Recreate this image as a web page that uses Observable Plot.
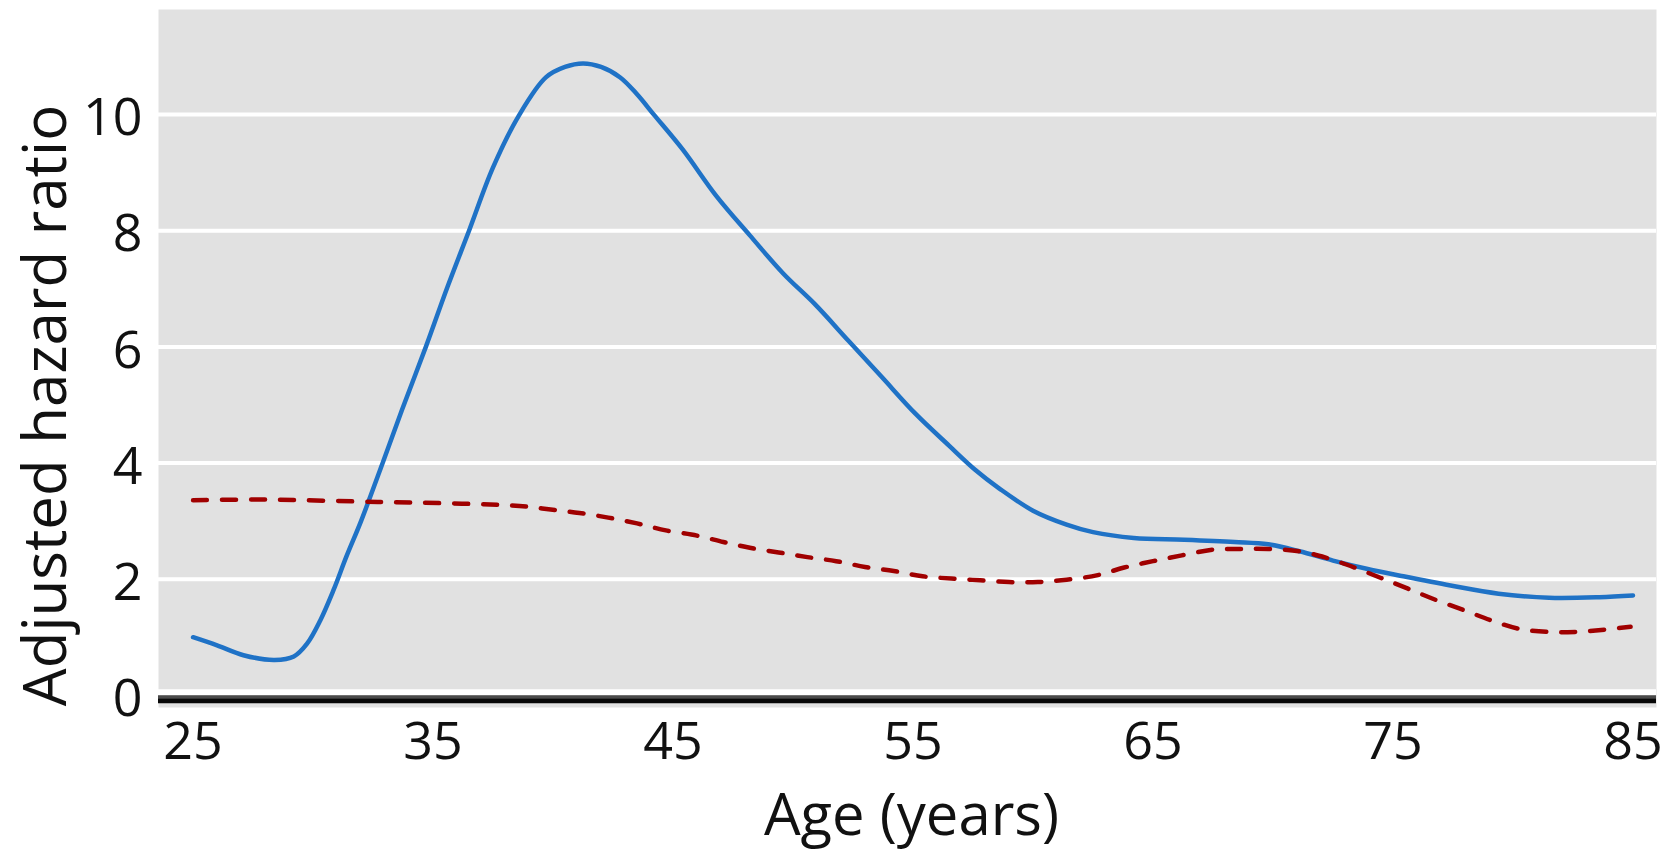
<!DOCTYPE html>
<html>
<head>
<meta charset="utf-8">
<script src="https://cdn.jsdelivr.net/npm/d3@7"></script>
<script src="https://cdn.jsdelivr.net/npm/@observablehq/plot@0.6"></script>
<style>
  html, body { margin: 0; padding: 0; background: #ffffff; }
  #chart svg { display: block; overflow: visible; }
</style>
</head>
<body>
<div id="chart"></div>
<script>
// Blue solid curve
const blueAge = [25.0, 26.0, 27.1, 28.4, 29.2, 29.75, 30.3, 30.85, 31.4, 32.0, 32.9, 33.7, 34.7, 35.6, 36.5, 37.5, 38.6, 39.7, 40.5, 41.25, 42.0, 42.8, 43.5, 44.2, 45.4, 46.8, 48.2, 49.6, 50.9, 52.3, 53.7, 55.1, 56.5, 57.6, 58.6, 60.0, 61.4, 62.5, 64.2, 66.3, 68.4, 69.8, 71.1, 72.5, 73.9, 75.3, 77.4, 79.4, 81.5, 83.6, 85.0];
const blueHR  = [1.00, 0.86, 0.69, 0.61, 0.67, 0.89, 1.29, 1.81, 2.40, 3.00, 4.00, 4.91, 6.00, 7.03, 8.00, 9.09, 10.0, 10.64, 10.82, 10.88, 10.82, 10.64, 10.35, 10.0, 9.40, 8.60, 7.92, 7.26, 6.74, 6.11, 5.48, 4.85, 4.30, 3.88, 3.56, 3.18, 2.94, 2.81, 2.71, 2.68, 2.64, 2.60, 2.48, 2.32, 2.18, 2.06, 1.89, 1.75, 1.68, 1.69, 1.72];

// Red dashed curve
const redAge = [25.0, 28.0, 32.7, 36.2, 38.6, 39.9, 41.1, 42.3, 43.5, 44.7, 46.0, 47.1, 48.2, 49.4, 50.6, 51.8, 53.0, 54.2, 55.4, 56.6, 57.8, 59.0, 60.2, 61.4, 62.7, 63.8, 65.0, 66.2, 67.5, 68.6, 69.8, 71.1, 72.2, 73.4, 74.5, 75.6, 76.8, 78.0, 79.1, 80.2, 81.5, 82.6, 83.8, 84.9];
const redHR  = [3.36, 3.37, 3.33, 3.30, 3.26, 3.20, 3.14, 3.06, 2.96, 2.84, 2.75, 2.64, 2.54, 2.46, 2.38, 2.31, 2.21, 2.14, 2.05, 2.01, 1.98, 1.95, 1.95, 1.99, 2.07, 2.20, 2.31, 2.41, 2.51, 2.52, 2.52, 2.48, 2.37, 2.20, 2.02, 1.84, 1.64, 1.46, 1.29, 1.15, 1.09, 1.09, 1.13, 1.18];

const xTicks = [25, 35, 45, 55, 65, 75, 85];
const yTicks = [0, 2, 4, 6, 8, 10];
const gridLines = [2, 4, 6, 8, 10];
const xLabel = "Age (years)";
const yLabel = "Adjusted hazard ratio";

const blue = blueAge.map((a, i) => ({age: a, hr: blueHR[i]}));
const red = redAge.map((a, i) => ({age: a, hr: redHR[i]}));

const chart = Plot.plot({
  width: 1677,
  height: 850,
  marginTop: 9,
  marginBottom: 143,
  marginLeft: 158,
  marginRight: 21,
  x: {domain: [23.56, 85.98]},
  y: {domain: [-0.21, 11.81]},
  style: {fontFamily: "'Open Sans', sans-serif", fontSize: "52px", color: "#111111", background: "#ffffff"},
  marks: [
    Plot.frame({fill: "#e1e1e1", stroke: null}),
    Plot.ruleY(gridLines, {stroke: "#ffffff", strokeWidth: 4}),
    Plot.ruleY([0], {stroke: "#ffffff", strokeWidth: 6, dy: -3}),
    Plot.ruleY([0], {stroke: "#4a4a4a", strokeWidth: 3, dy: 1.5}),
    Plot.ruleY([0], {stroke: "#080808", strokeWidth: 5, dy: 5.5}),
    Plot.line(blue, {x: "age", y: "hr", stroke: "#1f72c6", strokeWidth: 4.5, curve: "catmull-rom"}),
    Plot.line(red, {x: "age", y: "hr", stroke: "#a00000", strokeWidth: 4.5, strokeDasharray: "14,15", curve: "catmull-rom"}),
    Plot.axisX({ticks: xTicks, tickSize: 0, tickPadding: 15, label: null, fontSize: 52, fill: "#111111"}),
    Plot.axisY({ticks: yTicks, tickSize: 0, tickPadding: 16, label: null, fontSize: 52, dy: 4, fill: "#111111", tickFormat: d => String(d)}),
    Plot.text([xLabel], {frameAnchor: "bottom", lineAnchor: "bottom", textAnchor: "middle", dx: 4, dy: 127, fontSize: 58, fill: "#111111"}),
    Plot.text([yLabel], {frameAnchor: "left", lineAnchor: "bottom", textAnchor: "middle", rotate: -90, dx: -93, dy: 47, fontSize: 60, fill: "#111111"})
  ]
});
document.getElementById("chart").appendChild(chart);
</script>
</body>
</html>
